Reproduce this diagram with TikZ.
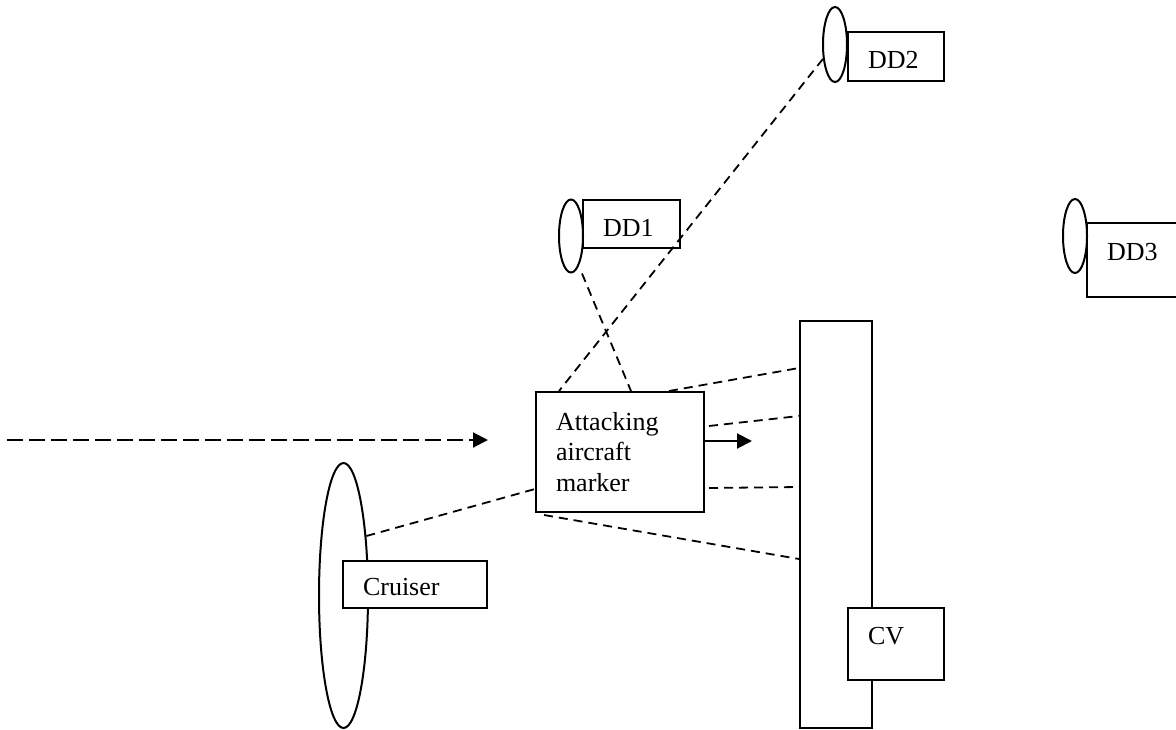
\documentclass[tikz,border=0pt]{standalone}
\usepackage{fontspec}
\setmainfont{Liberation Serif}
\usetikzlibrary{shapes.geometric,arrows.meta}
\begin{document}
\begin{tikzpicture}[x=1pt,y=-1pt,
  shipbox/.style={draw, line width=2pt, fill=white, rectangle, align=left,
    inner xsep=20pt, inner ysep=0pt, font=\fontsize{26}{30.5}\selectfont},
  plainbox/.style={draw, line width=2pt, fill=white, rectangle, inner sep=0pt},
  hull/.style={draw, ellipse, line width=2pt, fill=white, inner sep=0pt},
  link/.style={draw, line width=1.8pt, dash pattern=on 9pt off 6pt},
  course/.style={draw, line width=2pt, dash pattern=on 16pt off 6pt,
    -{Triangle[length=15pt,width=15pt]}},
  heading/.style={draw, line width=2pt, -{Triangle[length=15pt,width=15pt]}}
]
\path[use as bounding box, fill=white] (0,0) rectangle (1176,729);
\clip (0,0) rectangle (1176,729);

% destroyers
\node[shipbox, text width=57pt, minimum height=48pt, text height=24pt, text depth=0pt] (dd1) at (631.5,224) {DD1};
\node[hull, minimum width=24pt, minimum height=73pt] (dd1e) at (571,236) {};
\node[shipbox, text width=56pt, minimum height=49pt, text height=24pt, text depth=0pt] (dd2) at (896,56.5) {DD2};
\node[hull, minimum width=24pt, minimum height=75pt] (dd2e) at (835,44.5) {};
\node[shipbox, text width=56pt, minimum height=74pt, text height=17.5pt, text depth=17.5pt] (dd3) at (1135,260) {DD3};
\node[hull, minimum width=24pt, minimum height=74pt] (dd3e) at (1075,236) {};

% cruiser
\node[hull, minimum width=49pt, minimum height=265pt] (cre) at (343.5,595.5) {};
\node[shipbox, text width=104pt, minimum height=47pt, text height=22pt, text depth=0pt] (cr) at (415,584.5) {Cruiser};

% carrier
\node[plainbox, minimum width=72pt, minimum height=407pt] (cvb) at (836,524.5) {};
\node[shipbox, text width=56pt, minimum height=72pt, text height=17.5pt, text depth=17.5pt] (cv) at (896,644) {CV};

% attacking aircraft marker
\node[shipbox, text width=128pt, minimum height=120pt] (att) at (620,452) {Attacking\\aircraft\\marker};

% course arrows
\coordinate (coursestart) at (7,440);
\coordinate (courseend) at (488,440);
\draw[course] (coursestart) -- (courseend);
\coordinate (headend) at (752,441);
\draw[heading] ([yshift=11pt]att.east) -- (headend);

% sight lines
\draw[link] (dd2e.230) -- ([xshift=24pt]att.north west);
\draw[link] ([xshift=11pt]dd1e.south) -- ([xshift=96pt]att.north west);
\draw[link] ([xshift=134pt]att.north west) -- ([yshift=-48pt]cvb.north west);
\draw[link] ([xshift=4pt,yshift=26pt]att.east) -- ([yshift=-96pt]cvb.north west);
\draw[link] ([xshift=4pt,yshift=-36pt]att.east) -- ([yshift=-167pt]cvb.north west);
\draw[link] ([xshift=9pt,yshift=-2pt]att.south west) -- ([yshift=-239pt]cvb.north west);
\draw[link] (cre.69) -- ([yshift=-37pt]att.west);
\end{tikzpicture}
\end{document}
